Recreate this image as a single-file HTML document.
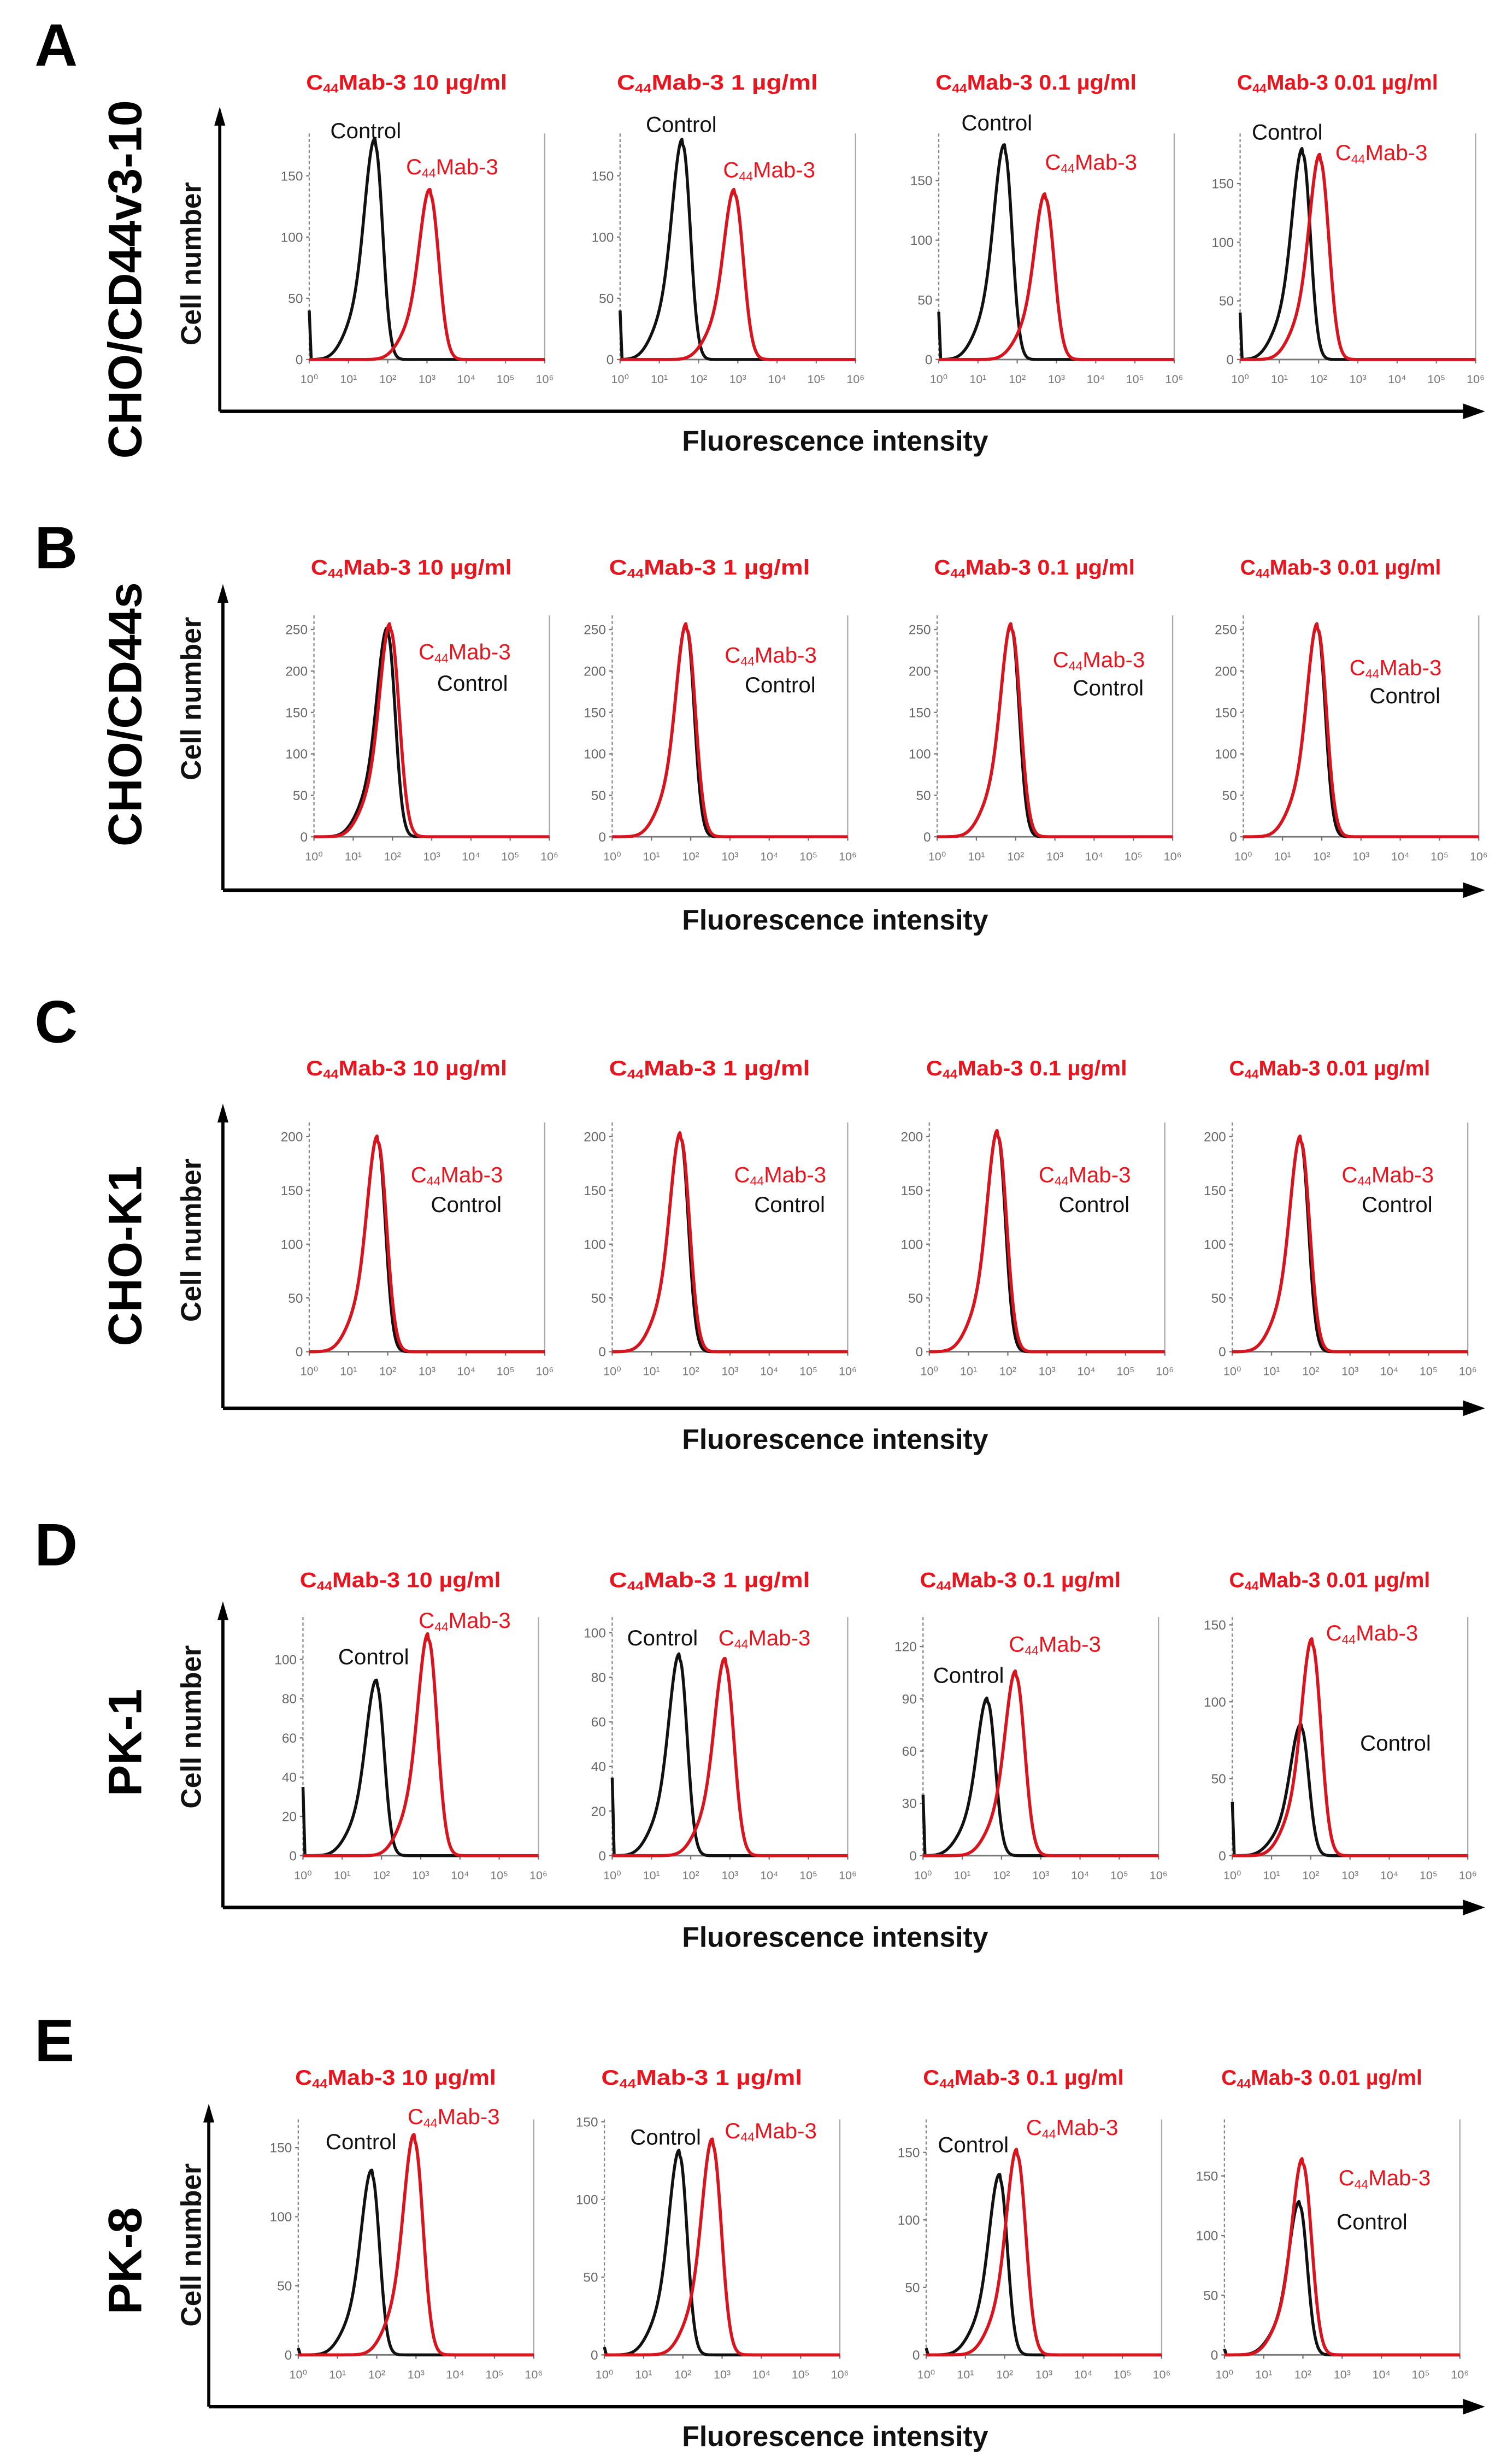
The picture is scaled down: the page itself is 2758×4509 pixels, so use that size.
<!DOCTYPE html>
<html><head><meta charset="utf-8"><style>
html,body{margin:0;padding:0;background:#fff;}
svg{display:block;font-family:"Liberation Sans",Arial,sans-serif;}
</style></head><body>
<svg id="fig" width="2758" height="4509" viewBox="0 0 960 1569.5" xmlns="http://www.w3.org/2000/svg"></svg>
<script>
// ---- data (values in decades 0..6 of log10 fluorescence; heights in cell counts) ----
const rowLetters = ["A","B","C","D","E"];
const cellLines = ["CHO/CD44v3-10","CHO/CD44s","CHO-K1","PK-1","PK-8"];
const concentrations = ["10","1","0.1","0.01"];
const xTickLabels = ["10⁰","10¹","10²","10³","10⁴","10⁵","10⁶"];
const yTicksA = [[0,50,100,150],[0,50,100,150],[0,50,100,150],[0,50,100,150]];
const yTicksB = [[0,50,100,150,200,250],[0,50,100,150,200,250],[0,50,100,150,200,250],[0,50,100,150,200,250]];
const yTicksC = [[0,50,100,150,200],[0,50,100,150,200],[0,50,100,150,200],[0,50,100,150,200]];
const yTicksD = [[0,20,40,60,80,100],[0,20,40,60,80,100],[0,30,60,90,120],[0,50,100,150]];
const yTicksE = [[0,50,100,150],[0,50,100,150],[0,50,100,150],[0,50,100,150]];
const ctrlPeakA = [1.68,1.6,1.68,1.6],  ctrlHeightA = [175,175,175,175];
const abPeakA   = [3.08,2.92,2.72,2.04], abHeightA   = [135,135,135,170];
const ctrlPeakB = [1.88,1.9,1.9,1.9],  ctrlHeightB = [245,250,250,250];
const abPeakB   = [1.95,1.9,1.9,1.9],  abHeightB   = [250,250,250,250];
const ctrlPeakC = [1.75,1.75,1.75,1.75], ctrlHeightC = [195,198,200,195];
const abPeakC   = [1.75,1.75,1.75,1.75], abHeightC   = [195,198,200,195];
const ctrlPeakD = [1.88,1.72,1.65,1.76], ctrlHeightD = [87,88,88,83];
const abPeakD   = [3.2,2.88,2.37,2.04],  abHeightD   = [110,86,103,137];
const ctrlPeakE = [1.88,1.92,1.88,1.92], ctrlHeightE = [130,128,130,125];
const abPeakE   = [2.96,2.76,2.32,2.0],  abHeightE   = [155,135,148,160];
const ctrlSpike = [40,0,0,35,5];
</script>
<script>
const S = document.getElementById('fig');
const NS = "http://www.w3.org/2000/svg";
function mk(tag, attrs, parent){const e=document.createElementNS(NS,tag);for(const k in attrs)e.setAttribute(k,attrs[k]);(parent||S).appendChild(e);return e;}
const rows = [
 {letterY:42, lineY:178, arrowTop:68, arrowX:140, axisY:262, fluorY:287, titleY:57, x0:[197,395,598,790], yZero:229, top:85, scale:[0.78,0.78,0.76,0.747], ticks:yTicksA, cp:ctrlPeakA, ch:ctrlHeightA, ap:abPeakA, ah:abHeightA,
  lab:[[233,88,288,111],[434,84,490,113],[635,83,695,108],[820,89,880,102]]},
 {letterY:362, lineY:455, arrowTop:372, arrowX:142, axisY:567, fluorY:592, titleY:366, x0:[200,390,597,792], yZero:533, top:392, scale:[0.528,0.528,0.528,0.528], ticks:yTicksB, cp:ctrlPeakB, ch:ctrlHeightB, ap:abPeakB, ah:abHeightB,
  lab:[[301,440,296,420],[497,441,491,422],[706,443,700,425],[895,448,889,430]]},
 {letterY:664, lineY:800, arrowTop:703, arrowX:142, axisY:897, fluorY:923, titleY:685, x0:[197,390,592,785], yZero:861, top:715, scale:[0.685,0.685,0.685,0.685], ticks:yTicksC, cp:ctrlPeakC, ch:ctrlHeightC, ap:abPeakC, ah:abHeightC,
  lab:[[297,772,291,753],[503,772,497,753],[697,772,691,753],[890,772,884,753]]},
 {letterY:997, lineY:1110, arrowTop:1020, arrowX:142, axisY:1215, fluorY:1240, titleY:1011, x0:[193,390,588,785], yZero:1182, top:1030, scale:[1.25,1.42,1.11,0.98], ticks:yTicksD, cp:ctrlPeakD, ch:ctrlHeightD, ap:abPeakD, ah:abHeightD,
  lab:[[238,1060,296,1037],[422,1048,487,1048],[617,1072,672,1052],[889,1115,874,1045]]},
 {letterY:1313, lineY:1440, arrowTop:1340, arrowX:133, axisY:1533, fluorY:1558, titleY:1328, x0:[190,385,590,780], yZero:1500, top:1350, scale:[0.88,0.99,0.86,0.76], ticks:yTicksE, cp:ctrlPeakE, ch:ctrlHeightE, ap:abPeakE, ah:abHeightE,
  lab:[[230,1369,289,1353],[424,1366,491,1362],[620,1371,683,1360],[874,1420,882,1392]]}
];
const PW = 150;
function curvePts(xs, ys, peak, h, sL, sR, spike){
  const pts=[];
  for(let i=0;i<=240;i++){
    const d=i*6/240;
    const s=d<peak?sL:sR;
    let v=h*Math.exp(-0.5*Math.pow((d-peak)/s,2));
    if(d<peak) v+=h*0.15*Math.exp(-0.5*Math.pow((d-(peak-0.55))/0.3,2));
    if(spike && d<0.05) v=Math.max(v, spike*(1-d/0.05));
    pts.push(xs(d).toFixed(2)+","+ys(v).toFixed(2));
  }
  return pts.join(" ");
}
rows.forEach((r,ri)=>{
  const g=mk('g',{});
  
  
  const L=mk('text',{x:22,y:r.letterY,'font-size':38,'font-weight':'bold',fill:'#000'},g);
  L.textContent=rowLetters[ri];
  
  
  const cl=mk('text',{x:0,y:0,transform:`translate(90,${r.lineY}) rotate(-90)`,'text-anchor':'middle','font-size':30,'font-weight':'bold',fill:'#000'},g);
  cl.textContent=cellLines[ri];
  
  
  const cn=mk('text',{x:0,y:0,transform:`translate(128,${r.lineY-10}) rotate(-90)`,'text-anchor':'middle','font-size':18,'font-weight':'bold',fill:'#111'},g);
  cn.textContent='Cell number';
  
  
  const ya=mk('path',{d:`M${r.arrowX},${r.axisY} L${r.arrowX},${r.arrowTop+10}`,stroke:'#000','stroke-width':2,fill:'none'},g);
  
  
  mk('path',{d:`M${r.arrowX-3.5},${r.arrowTop+12} L${r.arrowX},${r.arrowTop} L${r.arrowX+3.5},${r.arrowTop+12}Z`,fill:'#000'},g);
  const xa=mk('path',{d:`M${r.arrowX},${r.axisY} L${935},${r.axisY}`,stroke:'#000','stroke-width':2.2,fill:'none'},g);
  
  
  mk('path',{d:`M932,${r.axisY-5} L946,${r.axisY} L932,${r.axisY+5}Z`,fill:'#000'},g);
  const fl=mk('text',{x:532,y:r.fluorY,'text-anchor':'middle','font-size':18,'font-weight':'bold',fill:'#111'},g);
  fl.textContent='Fluorescence intensity';
  
  
  for(let c=0;c<4;c++){
    const x0=r.x0[c], sc=r.scale[c];
    const xs=d=>x0+d*PW/6, ys=v=>r.yZero-v*sc;
    const pg=mk('g',{},g);
    
    
    const t=mk('text',{x:x0+62,y:r.titleY,'text-anchor':'middle','font-size':13.5,'font-weight':'bold',fill:'#e8141e',textLength:128,lengthAdjust:'spacingAndGlyphs'},pg);
    t.innerHTML='C<tspan font-size="8" dy="2">44</tspan><tspan dy="-2">Mab-3 '+concentrations[c]+' µg/ml</tspan>';
    
    
    mk('line',{x1:x0,y1:r.top,x2:x0,y2:r.yZero,stroke:'#888','stroke-width':0.8,'stroke-dasharray':'2,1.5'},pg);
    mk('line',{x1:x0+PW,y1:r.top,x2:x0+PW,y2:r.yZero,stroke:'#aaa','stroke-width':0.8},pg);
    mk('line',{x1:x0,y1:r.yZero,x2:x0+PW,y2:r.yZero,stroke:'#777','stroke-width':1},pg);
    r.ticks[c].forEach(v=>{
      mk('line',{x1:x0-2,y1:ys(v),x2:x0,y2:ys(v),stroke:'#777','stroke-width':0.8},pg);
      const tl=mk('text',{x:x0-4,y:ys(v)+3,'text-anchor':'end','font-size':8.5,fill:'#666'},pg);
      tl.textContent=v;
      
      
    });
    xTickLabels.forEach((lb,i)=>{
      mk('line',{x1:xs(i),y1:r.yZero,x2:xs(i),y2:r.yZero+2.5,stroke:'#777','stroke-width':0.8},pg);
      const tl=mk('text',{x:xs(i),y:r.yZero+15,'text-anchor':'middle','font-size':7.5,fill:'#777'},pg);
      tl.textContent=lb;
      
      
    });
    const cpl=mk('polyline',{points:curvePts(xs,ys,r.cp[c],r.ch[c],0.27,0.19,ctrlSpike[ri]),fill:'none',stroke:'#111','stroke-width':1.9,'stroke-linejoin':'round'},pg);
    
    
    const apl=mk('polyline',{points:curvePts(xs,ys,r.ap[c],r.ah[c],0.27,0.22,0),fill:'none',stroke:'#d8141e','stroke-width':2,'stroke-linejoin':'round'},pg);
    
    
    const lb=r.lab[c];
    const ct=mk('text',{x:lb[0],y:lb[1],'text-anchor':'middle','font-size':14,fill:'#111'},pg);
    ct.textContent='Control';
    
    
    const at=mk('text',{x:lb[2],y:lb[3],'text-anchor':'middle','font-size':14,fill:'#e8141e'},pg);
    at.innerHTML='C<tspan font-size="8" dy="2">44</tspan><tspan dy="-2">Mab-3</tspan>';
    
    
  }
});
</script>
</body></html>
